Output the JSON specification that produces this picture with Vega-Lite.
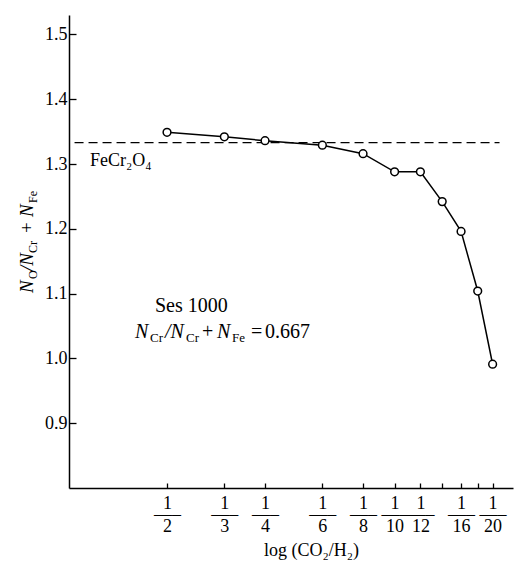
{
  "$schema": "https://vega.github.io/schema/vega-lite/v6.json",
  "width": 444,
  "height": 473,
  "autosize": "none",
  "padding": {"left": 69, "top": 15, "right": 4, "bottom": 73},
  "background": "white",
  "config": {"view": {"stroke": null}, "font": "Liberation Serif"},
  "datasets": {
    "main": [
      {"denominator": 2, "ratio": 1.349},
      {"denominator": 3, "ratio": 1.342},
      {"denominator": 4, "ratio": 1.336},
      {"denominator": 6, "ratio": 1.329},
      {"denominator": 8, "ratio": 1.316},
      {"denominator": 10, "ratio": 1.288},
      {"denominator": 12, "ratio": 1.288},
      {"denominator": 14, "ratio": 1.242},
      {"denominator": 16, "ratio": 1.196},
      {"denominator": 18, "ratio": 1.104},
      {"denominator": 20, "ratio": 0.991}
    ],
    "ref": [{"from": 1.04, "to": 21, "ratio": 1.333}],
    "one": [{}]
  },
  "encoding": {
    "x": {"type": "quantitative", "scale": {"type": "log", "domain": [1, 23.1], "nice": false}},
    "y": {"type": "quantitative", "scale": {"domain": [0.8, 1.53], "nice": false, "zero": false}}
  },
  "layer": [
    {
      "data": {"name": "ref"},
      "mark": {"type": "rule", "strokeDash": [9, 5], "strokeWidth": 1.3, "color": "black"},
      "encoding": {
        "x": {"field": "from", "type": "quantitative"},
        "x2": {"field": "to"},
        "y": {"field": "ratio", "type": "quantitative"}
      }
    },
    {
      "data": {"name": "main"},
      "mark": {"type": "line", "color": "black", "strokeWidth": 1.5,
        "point": {"filled": true, "fill": "white", "stroke": "black", "strokeWidth": 1.5, "size": 60, "opacity": 1}},
      "encoding": {
        "x": {"field": "denominator", "type": "quantitative",
          "axis": {
            "title": "log (CO₂/H₂)",
            "values": [2, 3, 4, 6, 8, 10, 12, 14, 16, 18, 20],
            "labelExpr": "datum.value == 14 || datum.value == 18 ? '' : ['1', '—–', '' + datum.value]",
            "labelFont": "Liberation Serif", "labelFontSize": 18, "labelColor": "black",
            "labelLineHeight": 11.5, "labelPadding": 11, "labelOverlap": false, "labelFlush": false,
            "tickSize": -5, "tickColor": "black", "tickWidth": 1.3,
            "domainColor": "black", "domainWidth": 1.5, "grid": false,
            "titleFont": "Liberation Serif", "titleFontSize": 18, "titleFontWeight": "normal", "titleColor": "black",
            "titleX": 242, "titleY": 62, "titleBaseline": "middle"
          }},
        "y": {"field": "ratio", "type": "quantitative",
          "axis": {
            "title": null,
            "values": [0.9, 1.0, 1.1, 1.2, 1.3, 1.4, 1.5], "format": ".1f",
            "labelFont": "Liberation Serif", "labelFontSize": 18, "labelColor": "black", "labelPadding": 9,
            "tickSize": -7, "tickColor": "black", "tickWidth": 1.3,
            "domainColor": "black", "domainWidth": 1.5, "grid": false
          }}
      }
    },
    {"data": {"name": "one"}, "mark": {"type": "text", "text": "FeCr₂O₄", "fontSize": 18, "align": "left", "baseline": "alphabetic", "color": "black"},
     "encoding": {"x": {"datum": 1.16, "type": "quantitative"}, "y": {"datum": 1.297, "type": "quantitative"}}},
    {"data": {"name": "one"}, "mark": {"type": "text", "text": "Ses 1000", "fontSize": 20, "align": "left", "baseline": "alphabetic", "color": "black"},
     "encoding": {"x": {"datum": 1.837, "type": "quantitative"}, "y": {"datum": 1.072, "type": "quantitative"}}},

    {"data": {"name": "one"}, "mark": {"type": "text", "text": "N", "fontStyle": "italic", "fontSize": 20, "align": "left", "baseline": "alphabetic", "color": "black", "dx": 0},
     "encoding": {"x": {"datum": 1.595, "type": "quantitative"}, "y": {"datum": 1.032, "type": "quantitative"}}},
    {"data": {"name": "one"}, "mark": {"type": "text", "text": "Cr", "fontSize": 13, "align": "left", "baseline": "alphabetic", "color": "black", "dx": 15, "dy": 4},
     "encoding": {"x": {"datum": 1.595, "type": "quantitative"}, "y": {"datum": 1.032, "type": "quantitative"}}},
    {"data": {"name": "one"}, "mark": {"type": "text", "text": "/N", "fontStyle": "italic", "fontSize": 20, "align": "left", "baseline": "alphabetic", "color": "black", "dx": 30},
     "encoding": {"x": {"datum": 1.595, "type": "quantitative"}, "y": {"datum": 1.032, "type": "quantitative"}}},
    {"data": {"name": "one"}, "mark": {"type": "text", "text": "Cr", "fontSize": 13, "align": "left", "baseline": "alphabetic", "color": "black", "dx": 51, "dy": 4},
     "encoding": {"x": {"datum": 1.595, "type": "quantitative"}, "y": {"datum": 1.032, "type": "quantitative"}}},
    {"data": {"name": "one"}, "mark": {"type": "text", "text": "+", "fontSize": 20, "align": "left", "baseline": "alphabetic", "color": "black", "dx": 67},
     "encoding": {"x": {"datum": 1.595, "type": "quantitative"}, "y": {"datum": 1.032, "type": "quantitative"}}},
    {"data": {"name": "one"}, "mark": {"type": "text", "text": "N", "fontStyle": "italic", "fontSize": 20, "align": "left", "baseline": "alphabetic", "color": "black", "dx": 82},
     "encoding": {"x": {"datum": 1.595, "type": "quantitative"}, "y": {"datum": 1.032, "type": "quantitative"}}},
    {"data": {"name": "one"}, "mark": {"type": "text", "text": "Fe", "fontSize": 13, "align": "left", "baseline": "alphabetic", "color": "black", "dx": 97, "dy": 4},
     "encoding": {"x": {"datum": 1.595, "type": "quantitative"}, "y": {"datum": 1.032, "type": "quantitative"}}},
    {"data": {"name": "one"}, "mark": {"type": "text", "text": "=", "fontSize": 20, "align": "left", "baseline": "alphabetic", "color": "black", "dx": 116},
     "encoding": {"x": {"datum": 1.595, "type": "quantitative"}, "y": {"datum": 1.032, "type": "quantitative"}}},
    {"data": {"name": "one"}, "mark": {"type": "text", "text": "0.667", "fontSize": 20, "align": "left", "baseline": "alphabetic", "color": "black", "dx": 130},
     "encoding": {"x": {"datum": 1.595, "type": "quantitative"}, "y": {"datum": 1.032, "type": "quantitative"}}},

    {"data": {"name": "one"}, "mark": {"type": "text", "text": "N", "fontStyle": "italic", "fontSize": 19, "angle": 270, "align": "left", "baseline": "alphabetic", "color": "black", "dx": 0},
     "encoding": {"x": {"datum": 0.775, "type": "quantitative"}, "y": {"datum": 1.101, "type": "quantitative"}}},
    {"data": {"name": "one"}, "mark": {"type": "text", "text": "O", "fontSize": 12, "angle": 270, "align": "left", "baseline": "alphabetic", "color": "black", "dx": 14, "dy": 4},
     "encoding": {"x": {"datum": 0.775, "type": "quantitative"}, "y": {"datum": 1.101, "type": "quantitative"}}},
    {"data": {"name": "one"}, "mark": {"type": "text", "text": "/N", "fontStyle": "italic", "fontSize": 19, "angle": 270, "align": "left", "baseline": "alphabetic", "color": "black", "dx": 22},
     "encoding": {"x": {"datum": 0.775, "type": "quantitative"}, "y": {"datum": 1.101, "type": "quantitative"}}},
    {"data": {"name": "one"}, "mark": {"type": "text", "text": "Cr", "fontSize": 12, "angle": 270, "align": "left", "baseline": "alphabetic", "color": "black", "dx": 40, "dy": 4},
     "encoding": {"x": {"datum": 0.775, "type": "quantitative"}, "y": {"datum": 1.101, "type": "quantitative"}}},
    {"data": {"name": "one"}, "mark": {"type": "text", "text": "+", "fontSize": 19, "angle": 270, "align": "left", "baseline": "alphabetic", "color": "black", "dx": 60},
     "encoding": {"x": {"datum": 0.775, "type": "quantitative"}, "y": {"datum": 1.101, "type": "quantitative"}}},
    {"data": {"name": "one"}, "mark": {"type": "text", "text": "N", "fontStyle": "italic", "fontSize": 19, "angle": 270, "align": "left", "baseline": "alphabetic", "color": "black", "dx": 76},
     "encoding": {"x": {"datum": 0.775, "type": "quantitative"}, "y": {"datum": 1.101, "type": "quantitative"}}},
    {"data": {"name": "one"}, "mark": {"type": "text", "text": "Fe", "fontSize": 12, "angle": 270, "align": "left", "baseline": "alphabetic", "color": "black", "dx": 90, "dy": 4},
     "encoding": {"x": {"datum": 0.775, "type": "quantitative"}, "y": {"datum": 1.101, "type": "quantitative"}}}
  ]
}
